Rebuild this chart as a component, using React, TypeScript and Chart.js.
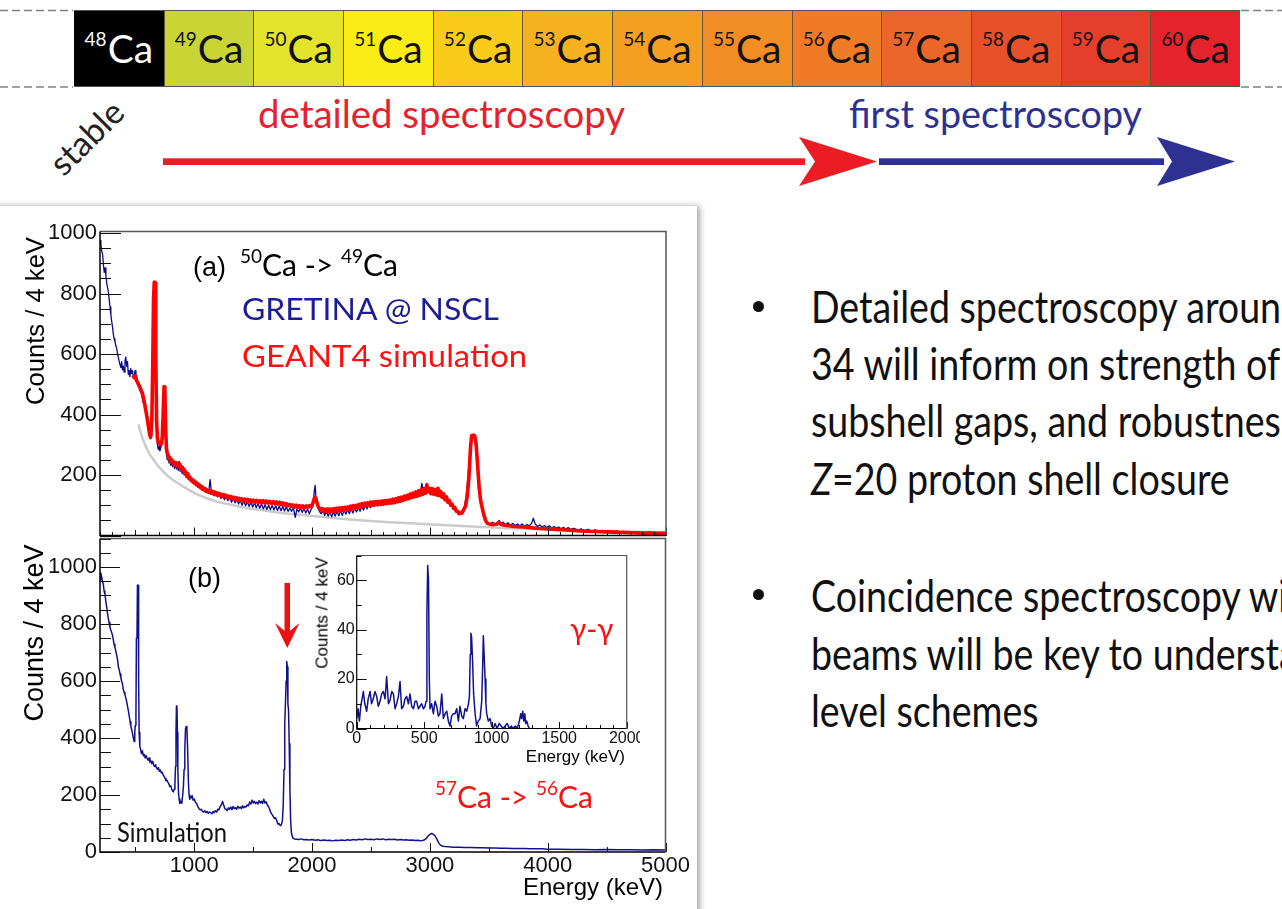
import React, { useEffect, useRef } from 'react';
import { Chart, registerables } from 'chart.js';

Chart.register(...registerables);

type Pt = [number, number];

// ---------------- isotope bar ----------------
const isotopeMass = ['48', '49', '50', '51', '52', '53', '54', '55', '56', '57', '58', '59', '60'];
const isotopeFill = ['#000000', '#c9d535', '#e3e32b', '#fbec18', '#f9cb1b', '#f6b120', '#f49f22', '#f28d24', '#ef7b26', '#eb6628', '#e8502a', '#e53f2c', '#e4232d'];
const isotopeTextColor = ['#ffffff', '#111', '#111', '#111', '#111', '#111', '#111', '#111', '#111', '#111', '#111', '#111', '#111'];

// ---------------- panel (a): 50Ca -> 49Ca  [energy keV, counts / 4 keV] ----------------
const gretinaA: Pt[] = [
  [200, 975], [208, 960], [215, 940], [222, 930], [229, 895], [236, 870], [243, 885], [250, 860], [257, 835], [264, 820],
  [271, 805], [278, 780], [285, 755], [292, 730], [299, 708], [306, 690], [313, 665], [320, 650], [327, 640], [334, 628],
  [342, 618], [349, 600], [356, 588], [363, 575], [370, 565], [377, 555], [384, 575], [391, 548], [398, 560], [405, 540],
  [412, 578], [419, 590], [426, 560], [433, 575], [440, 532], [447, 545], [454, 525], [461, 552], [468, 535], [475, 545],
  [482, 528], [490, 520], [497, 545], [505, 510], [512, 525], [520, 495], [527, 505], [535, 480], [542, 488], [550, 470],
  [557, 460], [565, 440], [572, 445], [580, 420], [588, 410], [595, 395], [603, 378], [610, 360], [618, 335], [625, 320],
  [632, 330], [640, 380], [647, 520], [654, 700], [661, 800], [667, 760], [673, 520], [680, 345], [687, 300], [694, 285],
  [701, 295], [708, 280], [715, 290], [722, 300], [729, 320], [736, 380], [743, 470], [750, 455], [757, 330], [764, 270],
  [771, 250], [778, 262], [785, 240], [792, 255], [800, 232], [808, 245], [816, 228], [824, 240], [832, 222], [840, 238],
  [848, 220], [856, 232], [864, 215], [872, 245], [880, 212], [888, 225], [896, 205], [905, 218], [914, 200], [922, 210],
  [930, 192], [940, 205], [950, 185], [960, 198], [970, 178], [980, 190], [990, 172], [1000, 182], [1012, 165], [1024, 176],
  [1036, 160], [1048, 170], [1060, 152], [1072, 165], [1084, 148], [1096, 158], [1110, 142], [1124, 152], [1134, 185], [1145, 140],
  [1156, 148], [1166, 132], [1180, 145], [1195, 128], [1210, 140], [1225, 122], [1240, 135], [1255, 118], [1270, 130], [1285, 115],
  [1300, 127], [1315, 110], [1330, 122], [1345, 108], [1360, 118], [1375, 104], [1390, 116], [1405, 100], [1420, 114], [1435, 98],
  [1450, 112], [1465, 96], [1480, 110], [1495, 94], [1510, 108], [1525, 92], [1540, 106], [1555, 90], [1570, 104], [1585, 88],
  [1600, 102], [1615, 86], [1630, 100], [1645, 85], [1660, 99], [1675, 84], [1690, 98], [1705, 83], [1720, 97], [1735, 82],
  [1750, 96], [1765, 81], [1780, 95], [1795, 80], [1810, 90], [1825, 80], [1840, 92], [1856, 60], [1870, 88], [1885, 78],
  [1900, 92], [1915, 76], [1930, 90], [1945, 74], [1960, 88], [1975, 72], [1990, 86], [2005, 95], [2018, 150], [2025, 166],
  [2032, 120], [2045, 95], [2060, 80], [2075, 72], [2090, 84], [2105, 66], [2120, 80], [2135, 64], [2150, 78], [2165, 62],
  [2180, 78], [2195, 64], [2210, 80], [2225, 65], [2240, 82], [2255, 66], [2270, 84], [2285, 70], [2300, 86], [2315, 72],
  [2330, 88], [2345, 74], [2360, 90], [2375, 78], [2390, 92], [2405, 80], [2420, 96], [2435, 84], [2450, 100], [2465, 88],
  [2480, 104], [2495, 92], [2510, 106], [2525, 96], [2540, 108], [2555, 98], [2570, 110], [2585, 100], [2600, 112], [2615, 102],
  [2630, 114], [2645, 104], [2660, 116], [2675, 106], [2690, 118], [2705, 108], [2720, 120], [2735, 112], [2750, 124], [2765, 114],
  [2780, 128], [2795, 118], [2810, 132], [2825, 122], [2840, 138], [2855, 126], [2870, 145], [2885, 132], [2900, 150], [2915, 140],
  [2930, 172], [2945, 138], [2960, 150], [2975, 142], [2990, 155], [3005, 140], [3020, 152], [3035, 136], [3050, 148], [3065, 130],
  [3080, 144], [3095, 124], [3110, 138], [3125, 118], [3140, 128], [3155, 110], [3170, 112], [3185, 96], [3200, 98], [3215, 84],
  [3230, 80], [3245, 70], [3260, 72], [3275, 80], [3290, 95], [3305, 130], [3320, 190], [3335, 270], [3350, 320], [3365, 325],
  [3380, 318], [3395, 260], [3410, 200], [3425, 140], [3440, 95], [3455, 65], [3470, 50], [3490, 42], [3510, 38], [3530, 44],
  [3550, 36], [3570, 42], [3585, 50], [3600, 40], [3620, 44], [3640, 36], [3660, 42], [3680, 34], [3700, 40], [3720, 33],
  [3740, 38], [3760, 32], [3780, 38], [3800, 30], [3820, 36], [3840, 32], [3860, 40], [3875, 57], [3890, 38], [3910, 30],
  [3930, 35], [3950, 28], [3970, 33], [3990, 26], [4010, 32], [4030, 25], [4050, 30], [4070, 24], [4090, 28], [4110, 22],
  [4130, 27], [4150, 21], [4170, 26], [4190, 20], [4220, 24], [4250, 18], [4280, 22], [4310, 16], [4340, 20], [4370, 14],
  [4400, 19], [4430, 13], [4460, 17], [4490, 12], [4520, 16], [4550, 11], [4580, 15], [4610, 10], [4640, 14], [4670, 9],
  [4700, 12], [4740, 8], [4780, 11], [4820, 8], [4860, 10], [4900, 7], [4940, 9], [4980, 7], [5000, 8],
];

const geant4A: Pt[] = [
  [480, 530], [490, 522], [500, 528], [510, 512], [520, 505], [530, 496], [540, 490], [550, 478], [560, 470], [570, 452],
  [580, 432], [590, 410], [600, 388], [610, 362], [618, 342], [625, 328], [632, 332], [640, 390], [647, 560], [654, 780],
  [660, 838], [667, 835], [673, 600], [680, 380], [687, 322], [694, 308], [701, 305], [708, 302], [715, 300], [722, 304],
  [729, 330], [736, 410], [743, 492], [750, 480], [757, 350], [764, 285], [771, 272], [780, 264], [786, 254], [792, 258],
  [798, 246], [805, 252], [812, 240], [818, 246], [825, 236], [832, 242], [838, 232], [845, 240], [852, 229], [858, 238],
  [865, 228], [872, 236], [878, 224], [885, 230], [892, 219], [898, 226], [905, 214], [912, 220], [918, 208], [925, 212],
  [932, 200], [938, 205], [945, 193], [952, 198], [958, 188], [965, 192], [972, 182], [980, 186], [988, 177], [996, 181],
  [1004, 172], [1012, 176], [1020, 167], [1028, 171], [1036, 162], [1044, 166], [1052, 158], [1060, 162], [1068, 153], [1076, 157],
  [1084, 150], [1092, 154], [1100, 146], [1110, 151], [1120, 143], [1130, 148], [1140, 140], [1150, 146], [1160, 138], [1170, 144],
  [1180, 135], [1190, 141], [1200, 133], [1212, 139], [1224, 131], [1236, 136], [1248, 128], [1260, 134], [1272, 126], [1284, 131],
  [1296, 124], [1308, 129], [1320, 121], [1332, 127], [1344, 119], [1356, 125], [1368, 117], [1380, 123], [1392, 116], [1404, 121],
  [1416, 114], [1428, 120], [1440, 113], [1452, 119], [1464, 112], [1476, 118], [1488, 111], [1500, 117], [1514, 110], [1528, 116],
  [1542, 109], [1556, 115], [1570, 108], [1584, 115], [1598, 108], [1612, 114], [1626, 107], [1640, 113], [1654, 106], [1668, 112],
  [1682, 105], [1696, 111], [1710, 104], [1724, 110], [1738, 102], [1752, 108], [1766, 100], [1780, 105], [1794, 98], [1808, 103],
  [1822, 96], [1836, 101], [1850, 94], [1864, 100], [1878, 93], [1892, 99], [1906, 92], [1920, 98], [1934, 92], [1948, 98],
  [1962, 93], [1976, 99], [1990, 95], [2000, 102], [2010, 112], [2020, 126], [2030, 124], [2040, 108], [2050, 96], [2062, 90],
  [2074, 84], [2086, 89], [2098, 80], [2110, 87], [2122, 79], [2134, 88], [2146, 78], [2158, 87], [2170, 80], [2182, 89],
  [2194, 79], [2206, 90], [2218, 81], [2230, 91], [2242, 82], [2254, 92], [2266, 83], [2278, 93], [2290, 85], [2302, 95],
  [2314, 86], [2326, 97], [2338, 88], [2350, 99], [2362, 90], [2374, 100], [2386, 92], [2398, 103], [2410, 94], [2422, 105],
  [2434, 96], [2446, 107], [2458, 98], [2470, 108], [2482, 99], [2494, 110], [2506, 100], [2518, 111], [2530, 101], [2542, 112],
  [2554, 102], [2566, 113], [2578, 103], [2590, 114], [2602, 104], [2614, 115], [2626, 105], [2638, 116], [2650, 106], [2662, 118],
  [2674, 107], [2686, 120], [2698, 109], [2710, 122], [2722, 111], [2734, 125], [2746, 113], [2758, 127], [2770, 116], [2782, 130],
  [2794, 119], [2806, 133], [2818, 122], [2830, 137], [2842, 125], [2854, 140], [2866, 128], [2878, 144], [2890, 130], [2902, 148],
  [2914, 133], [2926, 152], [2938, 136], [2950, 155], [2962, 140], [2972, 168], [2982, 145], [2994, 156], [3006, 138], [3018, 155],
  [3030, 136], [3042, 152], [3054, 134], [3066, 156], [3078, 132], [3090, 146], [3102, 126], [3114, 138], [3126, 118], [3138, 128],
  [3150, 110], [3162, 116], [3174, 100], [3186, 104], [3198, 90], [3210, 92], [3222, 80], [3234, 80], [3246, 72], [3258, 75],
  [3270, 74], [3285, 86], [3300, 96], [3315, 130], [3330, 200], [3342, 290], [3352, 330], [3365, 332], [3378, 330], [3390, 300],
  [3402, 235], [3415, 160], [3428, 115], [3441, 92], [3455, 68], [3470, 50], [3485, 40], [3510, 37], [3540, 36], [3565, 38],
  [3582, 43], [3600, 37], [3630, 34], [3670, 32], [3710, 30], [3750, 29], [3800, 28], [3850, 26], [3900, 24], [3950, 23],
  [4000, 22], [4080, 20], [4160, 18], [4240, 16], [4320, 14], [4400, 13], [4480, 12], [4560, 11], [4640, 10], [4720, 9],
  [4800, 8], [4880, 8], [4960, 7], [5000, 7],
];

const backgroundA: Pt[] = [
  [525, 367], [560, 322], [610, 277], [665, 244], [724, 216], [790, 192], [865, 172], [935, 155], [1007, 139], [1100, 124],
  [1190, 112], [1289, 103], [1430, 92], [1573, 84], [1710, 76], [1856, 70], [2100, 61], [2379, 51], [2650, 44], [2945, 38],
  [3230, 32], [3511, 27], [3800, 22], [4077, 18], [4360, 15], [4640, 13], [5000, 11],
];

// ---------------- panel (b): 57Ca -> 56Ca simulation ----------------
const simulationB: Pt[] = [
  [200, 955], [207, 979], [214, 965], [221, 950], [228, 940], [235, 915], [242, 905], [249, 880], [256, 862], [263, 840],
  [270, 821], [277, 805], [284, 790], [291, 780], [299, 770], [306, 760], [313, 745], [320, 728], [327, 718], [334, 705],
  [342, 690], [349, 675], [356, 650], [363, 640], [370, 625], [377, 612], [384, 598], [391, 590], [398, 570], [405, 560],
  [412, 552], [419, 540], [427, 527], [434, 510], [441, 495], [448, 478], [455, 457], [462, 440], [469, 430], [476, 415],
  [483, 400], [490, 388], [495, 420], [500, 445], [505, 470], [509, 750], [514, 760], [518, 937], [524, 935], [528, 600],
  [532, 420], [538, 370], [545, 360], [552, 345], [560, 355], [568, 338], [576, 342], [584, 330], [592, 338], [600, 328],
  [608, 322], [616, 330], [624, 315], [632, 320], [640, 310], [648, 318], [656, 305], [664, 300], [672, 306], [680, 295],
  [688, 290], [696, 296], [704, 283], [712, 288], [720, 278], [728, 280], [736, 270], [744, 266], [752, 258], [760, 250],
  [768, 252], [776, 245], [784, 240], [792, 230], [800, 232], [808, 222], [815, 215], [822, 211], [830, 220], [836, 240],
  [841, 300], [845, 420], [849, 512], [853, 510], [857, 420], [861, 290], [866, 210], [872, 185], [878, 170], [884, 178],
  [890, 172], [896, 180], [902, 200], [908, 230], [914, 290], [920, 360], [926, 435], [932, 440], [938, 430], [944, 360],
  [950, 250], [956, 200], [962, 185], [968, 195], [975, 190], [982, 198], [990, 182], [1000, 186], [1010, 175], [1020, 170],
  [1030, 160], [1040, 152], [1050, 148], [1060, 150], [1070, 142], [1080, 140], [1090, 145], [1100, 138], [1110, 142], [1120, 136],
  [1130, 140], [1140, 138], [1150, 134], [1160, 142], [1170, 138], [1180, 145], [1190, 140], [1200, 150], [1210, 148], [1220, 160],
  [1230, 165], [1240, 177], [1250, 165], [1260, 152], [1270, 150], [1280, 146], [1290, 155], [1300, 150], [1310, 158], [1320, 148],
  [1330, 160], [1340, 152], [1350, 155], [1360, 150], [1370, 160], [1380, 154], [1390, 158], [1400, 152], [1410, 162], [1420, 155],
  [1430, 160], [1440, 158], [1450, 165], [1460, 162], [1470, 175], [1480, 168], [1490, 182], [1500, 172], [1510, 178], [1520, 170],
  [1530, 175], [1540, 168], [1550, 180], [1560, 172], [1570, 178], [1580, 170], [1590, 185], [1600, 172], [1610, 176], [1620, 165],
  [1630, 160], [1640, 150], [1650, 138], [1660, 132], [1670, 125], [1680, 118], [1690, 120], [1700, 110], [1710, 98], [1720, 100],
  [1730, 92], [1740, 96], [1748, 110], [1755, 160], [1762, 290], [1768, 450], [1774, 520], [1780, 600], [1785, 668], [1790, 650],
  [1795, 520], [1800, 500], [1806, 380], [1812, 220], [1818, 110], [1824, 70], [1832, 55], [1840, 48], [1850, 46], [1870, 45],
  [1890, 44], [1910, 46], [1930, 43], [1950, 44], [1975, 42], [2000, 44], [2025, 41], [2050, 43], [2075, 40], [2100, 42],
  [2125, 40], [2150, 41], [2175, 39], [2200, 41], [2225, 40], [2250, 42], [2275, 40], [2300, 43], [2325, 41], [2350, 44],
  [2375, 42], [2400, 45], [2425, 43], [2450, 46], [2475, 44], [2500, 45], [2525, 43], [2550, 46], [2575, 44], [2600, 46],
  [2625, 43], [2650, 45], [2675, 44], [2700, 45], [2725, 42], [2750, 44], [2775, 42], [2800, 43], [2825, 41], [2850, 42],
  [2875, 40], [2900, 41], [2925, 39], [2950, 42], [2970, 48], [2985, 56], [3000, 62], [3015, 65], [3030, 62], [3045, 56],
  [3060, 45], [3075, 32], [3090, 24], [3110, 20], [3130, 19], [3160, 18], [3200, 17], [3250, 17], [3300, 16], [3350, 16],
  [3400, 15], [3450, 15], [3500, 14], [3550, 14], [3600, 13], [3650, 13], [3700, 12], [3750, 12], [3800, 12], [3850, 11],
  [3900, 11], [3950, 11], [4000, 10], [4100, 10], [4200, 9], [4300, 9], [4400, 8], [4500, 9], [4600, 8], [4700, 8],
  [4800, 7], [4900, 8], [5000, 7],
];

// ---------------- inset: gamma-gamma coincidence ----------------
const gammaGamma: Pt[] = [
  [0, 4], [10, 8], [20, 3], [30, 9], [40, 12], [49, 15], [60, 10], [74, 7], [85, 12], [99, 15],
  [110, 10], [123, 12], [135, 15], [148, 13], [160, 9], [173, 11], [185, 14], [197, 15], [210, 12], [222, 21],
  [235, 10], [247, 11.5], [260, 15], [272, 14], [284, 8], [296, 10], [309, 13], [321, 19], [333, 8], [346, 9],
  [358, 12], [370, 13], [383, 10], [395, 14], [407, 9], [420, 8], [432, 11], [444, 11], [457, 8], [469, 9],
  [481, 10], [494, 8], [506, 9], [514, 11], [520, 47], [526, 66], [532, 60], [538, 20], [543, 8], [555, 10],
  [568, 6], [580, 11], [593, 9], [605, 5], [617, 6], [630, 14], [642, 4], [655, 6], [667, 7], [679, 3],
  [691, 1], [703, 5], [716, 6], [728, 6], [741, 8], [753, 3], [765, 9], [778, 5], [790, 4], [803, 8],
  [815, 7], [828, 10], [835, 13], [841, 30], [846, 38.5], [851, 37], [858, 28], [866, 14], [877, 6], [888, 1],
  [900, 3], [914, 4], [926, 11], [933, 25], [938, 37.5], [944, 30], [951, 20], [957, 10], [963, 6], [975, 3],
  [988, 4], [1000, 1], [1012, 0], [1025, 2], [1040, 0], [1055, 2], [1070, 1], [1085, 0], [1100, 1], [1115, 2],
  [1130, 0], [1145, 1], [1160, 0], [1175, 1], [1190, 0], [1205, 3], [1215, 6], [1222, 4], [1230, 7], [1238, 3],
  [1245, 6], [1252, 2], [1260, 3], [1270, 1], [1280, 0],
];

// ---------------- tick labels ----------------
const yLabelsA = [200, 400, 600, 800, 1000];
const yLabelsB = [0, 200, 400, 600, 800, 1000];
const xLabelsB = [1000, 2000, 3000, 4000, 5000];
const xLabelsInset = [0, 500, 1000, 1500, 2000];
const yLabelsInset = [0, 20, 40, 60];

// ---------------- right-hand bullet text ----------------
const bullet1 = ['Detailed spectroscopy around', '34 will inform on strength of', 'subshell gaps, and robustness', 'Z=20 proton shell closure'];
const bullet2 = ['Coincidence spectroscopy with', 'beams will be key to understand', 'level schemes'];

// ---------------- helpers ----------------
const BASE_K: Record<string, number> = { Lato: 0.887, 'Liberation Sans': 0.8465 };

let measureCtx: CanvasRenderingContext2D | null = null;
function fitScale(text: string, font: string, width: number): number {
  if (!measureCtx) measureCtx = document.createElement('canvas').getContext('2d');
  if (!measureCtx) return 1;
  measureCtx.font = font;
  const w = measureCtx.measureText(text).width;
  return w > 0 ? width / w : 1;
}

function Txt(props: any) {
  const { x, baseline, size, family = 'Lato', color = '#000', align = 'left', fit, children, style, italic } = props;
  const top = baseline - (BASE_K[family] ?? 0.88) * size;
  let sx = 1;
  if (fit) sx = fitScale(fit.text, `${italic ? 'italic ' : ''}${size}px ${family}`, fit.width);
  const tr: string[] = [];
  if (align === 'center') tr.push('translateX(-50%)');
  if (align === 'right') tr.push('translateX(-100%)');
  if (sx !== 1) tr.push(`scaleX(${sx})`);
  return (
    <div
      style={{
        position: 'absolute', left: x, top, fontFamily: family, fontSize: size, lineHeight: `${size}px`, color,
        whiteSpace: 'nowrap', transformOrigin: align === 'center' ? 'center' : align === 'right' ? 'right' : 'left',
        transform: tr.length ? tr.join(' ') : undefined, ...style,
      }}
    >
      {children}
    </div>
  );
}

function VTxt(props: any) {
  const { cx, cy, size, family = 'Liberation Sans', color = '#000', children } = props;
  return (
    <div
      style={{
        position: 'absolute', left: cx, top: cy, fontFamily: family, fontSize: size, lineHeight: `${size}px`, color,
        whiteSpace: 'nowrap', transform: 'translate(-50%, -50%) rotate(-90deg)',
      }}
    >
      {children}
    </div>
  );
}

// ROOT-style inward ticks and frame, drawn through the chart's scales
const rootAxesPlugin = {
  id: 'rootAxes',
  beforeDatasetsDraw(chart: any, _args: any, opts: any) {
    if (!opts || !opts.fill) return;
    const { ctx, chartArea: a } = chart;
    ctx.save();
    ctx.fillStyle = opts.fill;
    ctx.fillRect(a.left, a.top, a.right - a.left, a.bottom - a.top);
    ctx.restore();
  },
  afterDatasetsDraw(chart: any, _args: any, opts: any) {
    const { ctx, chartArea: a } = chart;
    const xs = chart.scales.x;
    const ys = chart.scales.y;
    ctx.save();
    ctx.strokeStyle = '#111';
    ctx.lineWidth = opts.tickWidth || 1;
    for (const [step, len] of opts.xSteps || []) {
      for (let v = Math.ceil(xs.min / step) * step; v <= xs.max + 1e-6; v += step) {
        const px = Math.round(xs.getPixelForValue(v)) + 0.5;
        ctx.beginPath();
        ctx.moveTo(px, a.bottom);
        ctx.lineTo(px, a.bottom - len);
        ctx.stroke();
      }
    }
    for (const [step, len] of opts.ySteps || []) {
      for (let v = Math.ceil(ys.min / step) * step; v <= ys.max + 1e-6; v += step) {
        const py = Math.round(ys.getPixelForValue(v)) + 0.5;
        ctx.beginPath();
        ctx.moveTo(a.left, py);
        ctx.lineTo(a.left + len, py);
        ctx.stroke();
      }
    }
    const fw = opts.frameWidth || 1.5;
    ctx.lineWidth = fw;
    ctx.strokeStyle = opts.frameLight || '#555';
    ctx.beginPath();
    ctx.moveTo(a.left, a.top);
    ctx.lineTo(a.right, a.top);
    ctx.lineTo(a.right, a.bottom);
    ctx.stroke();
    ctx.strokeStyle = '#000';
    ctx.beginPath();
    ctx.moveTo(a.left, a.top);
    ctx.lineTo(a.left, a.bottom);
    ctx.lineTo(a.right, a.bottom);
    ctx.stroke();
    ctx.restore();
  },
};

function lineSet(pts: Pt[], color: string, width: number, smooth = false) {
  return {
    data: pts.map(([x, y]) => ({ x, y })),
    borderColor: color,
    backgroundColor: color,
    borderWidth: width,
    pointRadius: 0,
    fill: false,
    tension: smooth ? 0.4 : 0,
    cubicInterpolationMode: smooth ? 'monotone' : 'default',
    borderJoinStyle: 'round',
  };
}

function buildConfig(p: any) {
  const fixBox = (size: number, isX: boolean) => (s: any) => {
    if (isX) s.height = size; else s.width = size;
    s.paddingLeft = 0; s.paddingRight = 0; s.paddingTop = 0; s.paddingBottom = 0;
  };
  return {
    type: 'line',
    data: { datasets: p.datasets },
    options: {
      animation: false,
      responsive: false,
      maintainAspectRatio: false,
      devicePixelRatio: 1,
      events: [],
      layout: { padding: p.padding },
      plugins: {
        legend: { display: false },
        tooltip: { enabled: false },
        rootAxes: { xSteps: p.xSteps, ySteps: p.ySteps, fill: p.fill, frameWidth: p.frameWidth, tickWidth: p.tickWidth },
      },
      scales: {
        x: {
          type: 'linear', min: p.xMin, max: p.xMax,
          grid: { display: false, drawTicks: false },
          border: { display: false },
          afterBuildTicks: (s: any) => { s.ticks = p.xLabels.map((v: number) => ({ value: v })); },
          afterFit: fixBox(p.xHeight, true),
          ticks: {
            display: p.showX, autoSkip: false, maxRotation: 0, minRotation: 0, padding: p.xPad ?? 1, color: '#111',
            font: { family: 'Liberation Sans', size: p.font }, callback: (v: any) => String(v),
          },
        },
        y: {
          type: 'linear', min: p.yMin, max: p.yMax,
          grid: { display: false, drawTicks: false },
          border: { display: false },
          afterBuildTicks: (s: any) => { s.ticks = p.yLabels.map((v: number) => ({ value: v })); },
          afterFit: fixBox(p.yWidth, false),
          ticks: {
            autoSkip: false, padding: p.yPad ?? 3, color: '#111',
            font: { family: 'Liberation Sans', size: p.font }, callback: (v: any) => String(v),
          },
        },
      },
    },
    plugins: [rootAxesPlugin],
  };
}

function ChartCanvas(props: any) {
  const { left, top, width, height, make } = props;
  const ref = useRef<HTMLCanvasElement>(null);
  useEffect(() => {
    if (!ref.current) return;
    const chart = new Chart(ref.current, make() as any);
    return () => chart.destroy();
  }, []);
  return <canvas ref={ref} width={width} height={height} style={{ position: 'absolute', left, top, width, height }} />;
}

const makeA = () =>
  buildConfig({
    datasets: [lineSet(geant4A, '#ff0000', 3.6), lineSet(gretinaA, '#0a0a8c', 1.3), lineSet(backgroundA, '#cbcbcb', 2.5, true)],
    xMin: 200, xMax: 5000, yMin: 0, yMax: 1005,
    xLabels: xLabelsB, yLabels: yLabelsA, showX: false,
    yWidth: 100, xHeight: 0, font: 22,
    padding: { left: 0, right: 24, top: 26.5, bottom: 9.5 },
    xSteps: [[1000, 8], [500, 5.5], [100, 3.5]], ySteps: [[200, 21], [50, 11]],
  });

const makeB = () =>
  buildConfig({
    datasets: [lineSet(simulationB, '#11118e', 1.5)],
    xMin: 200, xMax: 5000, yMin: 0, yMax: 1100,
    xLabels: xLabelsB, yLabels: yLabelsB, showX: true,
    yWidth: 100, xHeight: 30, font: 22,
    padding: { left: 0, right: 24.5, top: 8.5, bottom: 27 },
    xSteps: [[1000, 9], [500, 5]], ySteps: [[200, 20], [50, 11]],
  });

const makeInset = () =>
  buildConfig({
    datasets: [lineSet(gammaGamma, '#12128f', 1.5)],
    xMin: 0, xMax: 2000, yMin: 0, yMax: 70,
    xLabels: xLabelsInset, yLabels: yLabelsInset, showX: true,
    yWidth: 56.7, xHeight: 22, font: 16, yPad: 2, xPad: 0,
    padding: { left: 0, right: 13.3, top: 10.5, bottom: 9.5 },
    xSteps: [[500, 6.5], [100, 3.5]], ySteps: [[20, 10], [10, 5]],
    fill: '#ffffff', frameWidth: 1.2, tickWidth: 1,
  });

function IsotopeBar() {
  const x0 = 74;
  const w = (1240 - 74) / 13;
  const caSize = 39;
  return (
    <>
      {isotopeMass.map((m, i) => (
        <div
          key={m}
          style={{
            position: 'absolute', left: x0 + i * w, top: 10, width: w, height: 77, boxSizing: 'border-box',
            background: isotopeFill[i], borderLeft: i > 0 ? '1px solid #6a5636' : 'none',
            borderTop: '1px solid #555', borderBottom: '1px solid #555',
          }}
        >
          <div
            style={{
              position: 'absolute', left: 0, width: '100%', top: 63 - 10 - 0.887 * caSize, textAlign: 'center',
              fontFamily: 'Lato', fontSize: caSize, lineHeight: `${caSize}px`, color: isotopeTextColor[i], whiteSpace: 'nowrap',
            }}
          >
            <span style={{ fontSize: 19, position: 'relative', top: -17, marginRight: 1 }}>{m}</span>
            <span>Ca</span>
          </div>
        </div>
      ))}
      <svg width={1282} height={200} style={{ position: 'absolute', left: 0, top: 0 }}>
        <line x1={0} y1={10.5} x2={73} y2={10.5} stroke="#808080" strokeWidth={1.5} strokeDasharray="8 4" />
        <line x1={0} y1={87} x2={73} y2={87} stroke="#808080" strokeWidth={1.5} strokeDasharray="8 4" />
        <line x1={1241} y1={10.5} x2={1282} y2={10.5} stroke="#808080" strokeWidth={1.5} strokeDasharray="8 4" />
        <line x1={1241} y1={87} x2={1282} y2={87} stroke="#808080" strokeWidth={1.5} strokeDasharray="8 4" />
        <rect x={163} y={158.3} width={642} height={6.7} fill="#ec1c24" />
        <polygon points="877,161.5 799,137 815,161.5 799,186" fill="#ec1c24" />
        <rect x={879} y={158.3} width={285} height={6.7} fill="#2e3192" />
        <polygon points="1235,161.5 1157,137 1172,161.5 1157,186" fill="#2e3192" />
      </svg>
    </>
  );
}

function Sup(props: any) {
  return <span style={{ fontSize: props.size, position: 'relative', top: -props.raise }}>{props.children}</span>;
}

export default function App() {
  useEffect(() => {
    document.body.style.margin = '0';
  }, []);
  const rightFont = 44;
  const rightScale = fitScale('Detailed spectroscopy aroun', `${rightFont}px Lato`, 471);
  const rightStyle = (baseline: number) => ({
    position: 'absolute' as const, left: 811, top: baseline - 0.887 * rightFont, fontFamily: 'Lato', fontSize: rightFont,
    lineHeight: `${rightFont}px`, color: '#111', whiteSpace: 'nowrap' as const, transformOrigin: 'left',
    transform: `scaleX(${rightScale})`,
  });
  const b1Base = [323, 380, 437.5, 495];
  const b2Base = [612, 670, 727];
  return (
    <div style={{ position: 'absolute', left: 0, top: 0, width: 1282, height: 909, overflow: 'hidden', background: '#fff' }}>
      <IsotopeBar />
      <Txt x={86} baseline={150} size={34} color="#222" align="center" style={{ transform: 'translateX(-50%) rotate(-45deg)', transformOrigin: 'center' }}>
        stable
      </Txt>
      <Txt x={258} baseline={128} size={38} color="#e5222d" fit={{ text: 'detailed spectroscopy', width: 367 }}>detailed spectroscopy</Txt>
      <Txt x={849} baseline={128} size={38} color="#2e3192" fit={{ text: 'first spectroscopy', width: 293 }}>first spectroscopy</Txt>

      {/* left figure panel */}
      <div style={{ position: 'absolute', left: -20, top: 206, width: 717, height: 740, background: '#fff', boxShadow: '2px 1px 6px 1px rgba(0,0,0,0.35)' }} />
      <ChartCanvas left={0} top={205} width={690} height={340} make={makeA} />
      <ChartCanvas left={0} top={530} width={690} height={379} make={makeB} />
      <ChartCanvas left={300} top={545} width={340} height={215} make={makeInset} />

      <VTxt cx={36} cy={321} size={25.6}>Counts / 4 keV</VTxt>
      <VTxt cx={34} cy={633} size={27}>Counts / 4 keV</VTxt>
      <Txt x={663} baseline={895} size={24} family="Liberation Sans" align="right">Energy (keV)</Txt>
      <VTxt cx={322.4} cy={613} size={17}>Counts / 4 keV</VTxt>
      <Txt x={625} baseline={762} size={17} family="Liberation Sans" align="right">Energy (keV)</Txt>

      <Txt x={193} baseline={277} size={27} family="Liberation Sans">(a)</Txt>
      <Txt x={240} baseline={276} size={30}>
        <Sup size={19} raise={13}>50</Sup>Ca -&gt; <Sup size={19} raise={13}>49</Sup>Ca
      </Txt>
      <Txt x={242} baseline={320} size={30} color="#1c1c96" fit={{ text: 'GRETINA @ NSCL', width: 258 }}>GRETINA @ NSCL</Txt>
      <Txt x={242} baseline={367} size={30} color="#ff1010" fit={{ text: 'GEANT4 simulation', width: 285 }}>GEANT4 simulation</Txt>

      <Txt x={188} baseline={588} size={27} family="Liberation Sans">(b)</Txt>
      <Txt x={117} baseline={842} size={27} color="#111" fit={{ text: 'Simulation', width: 110 }}>Simulation</Txt>
      <Txt x={435} baseline={808} size={30} color="#ff1010">
        <Sup size={19} raise={13}>57</Sup>Ca -&gt; <Sup size={19} raise={13}>56</Sup>Ca
      </Txt>
      <Txt x={570} baseline={640} size={30} color="#ff1010">γ-γ</Txt>
      <svg width={40} height={80} style={{ position: 'absolute', left: 267, top: 578 }}>
        <rect x={17.5} y={5} width={5.5} height={50} fill="#ee1111" />
        <polygon points="8,45 20.25,70 32.5,45 20.25,55" fill="#ee1111" />
      </svg>

      {/* right bullets */}
      <div style={{ position: 'absolute', left: 752.5, top: 300.5, width: 11, height: 11, borderRadius: '50%', background: '#111' }} />
      <div style={{ position: 'absolute', left: 752.5, top: 589, width: 11, height: 11, borderRadius: '50%', background: '#111' }} />
      {bullet1.map((t, i) => (
        <div key={'b1' + i} style={rightStyle(b1Base[i])}>
          {t.startsWith('Z=') ? (<><i>Z</i>{t.slice(1)}</>) : t}
        </div>
      ))}
      {bullet2.map((t, i) => (
        <div key={'b2' + i} style={rightStyle(b2Base[i])}>{t}</div>
      ))}
    </div>
  );
}
